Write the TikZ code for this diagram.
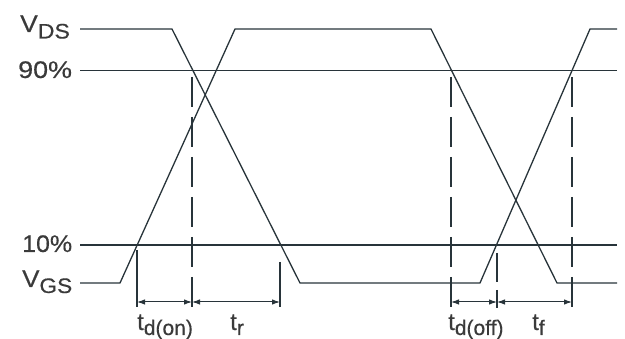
\documentclass[tikz,border=0pt]{standalone}
\usepackage{fontspec}
\setmainfont{Liberation Sans}
\newfontfamily\lblfont{Liberation Sans}[FakeBold=0.4]
\usetikzlibrary{arrows.meta}
\definecolor{wavec}{RGB}{40,52,58}
\definecolor{txtc}{RGB}{58,58,58}
\begin{document}
\begin{tikzpicture}[x=1pt,y=-1pt,
  wave/.style={draw=wavec,line width=1.3pt,line join=miter},
  level/.style={draw=wavec,line width=1.2pt},
  bigdash/.style={draw=wavec,line width=2.4pt,dash pattern=on 30pt off 10pt},
  thindash/.style={draw=wavec,line width=1.1pt,dash pattern=on 30pt off 10pt},
  tickline/.style={draw=wavec,line width=1.1pt},
  dimline/.style={draw=wavec,line width=1pt,{Latex[length=8pt,width=5.5pt]}-{Latex[length=8pt,width=5.5pt]}},
  lbl/.style={text=txtc,inner sep=0pt,anchor=base west,font=\lblfont\fontsize{24}{24}\selectfont},
]
\useasboundingbox (0,0) rectangle (625,339);

% key coordinates
\coordinate (vdsA) at (80,29);   \coordinate (vdsB) at (172,29);
\coordinate (vdsC) at (300,283); \coordinate (vdsD) at (480,283);
\coordinate (vdsE) at (590,29);  \coordinate (vdsF) at (617,29);
\coordinate (vgsA) at (80,283);  \coordinate (vgsB) at (120,283);
\coordinate (vgsC) at (235,29);  \coordinate (vgsD) at (431,29);
\coordinate (vgsE) at (557,283); \coordinate (vgsF) at (617,283);

% reference levels
\draw[level] (80,70.5) coordinate (n90a) -- (617,70.5) coordinate (n90b);
\draw[level] (80,245) coordinate (n10a) -- (617,245) coordinate (n10b);

% waveforms
\draw[wave] (vdsA) -- (vdsB) -- (vdsC) -- (vdsD) -- (vdsE) -- (vdsF);
\draw[wave] (vgsA) -- (vgsB) -- (vgsC) -- (vgsD) -- (vgsE) -- (vgsF);

% vertical markers
\coordinate (m1t) at (192,77);  \coordinate (m1b) at (192,308);
\coordinate (m2t) at (451,77);  \coordinate (m2b) at (451,308);
\coordinate (m3t) at (572,77);  \coordinate (m3b) at (572,308);
\draw[bigdash] (m1t) -- (m1b);
\draw[bigdash] (m2t) -- (m2b);
\draw[thindash] (m3t) -- (m3b);
\draw[tickline] (137,250) coordinate (k1t) -- (137,307) coordinate (k1b);
\draw[tickline] (280,262) coordinate (k2t) -- (280,307) coordinate (k2b);
\draw[wavec,line width=2.2pt] (497,253) coordinate (k3t) -- (497,282) coordinate (k3m);
\draw[tickline] (497,290) coordinate (k3n) -- (497,308) coordinate (k3b);

% dimension arrows
\coordinate (d1) at (137,302); \coordinate (d2) at (192,302); \coordinate (d3) at (280,302);
\coordinate (d4) at (451,302); \coordinate (d5) at (497,302); \coordinate (d6) at (572,302);
\draw[dimline] (d1) -- (d2);
\draw[dimline] (d2) -- (d3);
\draw[dimline] (d4) -- (d5);
\draw[dimline] (d5) -- (d6);

% labels
\node[lbl] (lvds) at (20,32) {\scalebox{1.1}[1]{V\raisebox{-6.5pt}{\fontsize{21}{21}\selectfont DS}}};
\node[lbl] (l90) at (18,78) {\scalebox{1.12}[1]{90\%}};
\node[lbl] (l10) at (22,252) {\scalebox{1.04}[1]{10\%}};
\node[lbl] (lvgs) at (22,287) {\scalebox{1.08}[1]{V\raisebox{-6pt}{\fontsize{21}{21}\selectfont GS}}};

\node[lbl] (ldon) at (137,330) {t\raisebox{-5pt}{\fontsize{21}{21}\selectfont d(on)}};
\node[lbl] (ltr) at (230,330) {t\raisebox{-5pt}{\fontsize{21}{21}\selectfont r}};
\node[lbl] (ldoff) at (448,330) {t\raisebox{-5pt}{\fontsize{21}{21}\selectfont d(off)}};
\node[lbl] (ltf) at (532,330) {t\raisebox{-5pt}{\fontsize{21}{21}\selectfont f}};
\end{tikzpicture}
\end{document}
